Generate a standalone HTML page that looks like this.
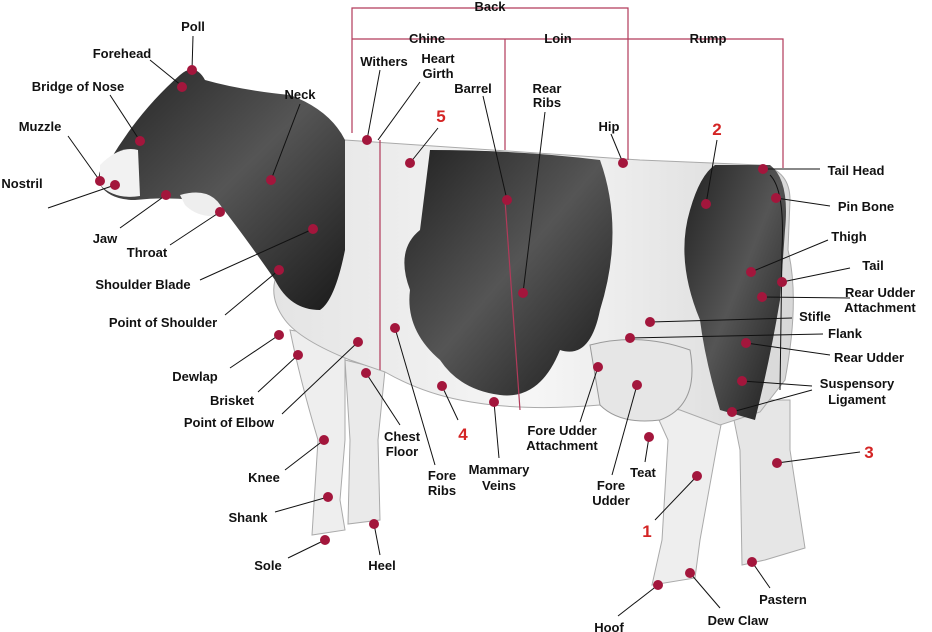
<!DOCTYPE html>
<html><head><meta charset="utf-8"><style>
html,body{margin:0;padding:0;background:#fff;}
svg{display:block;}
text{font-family:"Liberation Sans",sans-serif;font-weight:bold;font-size:13px;fill:#111;}
.r{fill:#d42424;font-size:17px;}
.d{fill:#a3163c;}
.l{stroke:#111;stroke-width:1;fill:none;}
.b{stroke:#b23a5a;stroke-width:1.2;fill:none;}
</style></head><body>
<svg width="932" height="632" viewBox="0 0 932 632">
<defs>
<linearGradient id="dk" x1="0" y1="0" x2="1" y2="1"><stop offset="0" stop-color="#222"/><stop offset=".5" stop-color="#555"/><stop offset="1" stop-color="#1a1a1a"/></linearGradient>
<linearGradient id="lg" x1="0" y1="0" x2="1" y2="0"><stop offset="0" stop-color="#e4e4e4"/><stop offset=".5" stop-color="#f6f6f6"/><stop offset="1" stop-color="#d8d8d8"/></linearGradient>
</defs>
<!-- legs -->
<path d="M290 330 L345 340 L345 440 L340 500 L345 530 L312 535 L318 440 Q300 380 290 330 Z" fill="#eee" stroke="#aaa"/>
<path d="M345 360 L385 370 L378 440 L380 520 L348 524 L350 440 Z" fill="#eaeaea" stroke="#aaa"/>
<path d="M730 400 L790 400 L790 450 L805 548 L765 560 L742 565 L740 450 Z" fill="#e6e6e6" stroke="#aaa"/>
<path d="M650 400 L725 405 L718 440 L700 540 L695 578 L652 585 L662 540 L668 440 Z" fill="#eee" stroke="#aaa"/>
<!-- body white -->
<path d="M345 140 Q500 150 640 160 L760 165 Q790 170 790 200 L788 250 Q800 300 785 380 L760 412 L720 425 L680 410 Q640 400 600 405 Q520 412 460 400 Q420 392 385 372 L350 360 Q300 340 285 320 Q270 300 275 280 Z" fill="url(#lg)" stroke="#aaa" stroke-width="1"/>
<!-- udder -->
<path d="M590 345 Q640 332 690 350 Q700 405 660 420 Q620 425 600 405 Z" fill="#e6e6e6" stroke="#999"/>
<!-- head & neck black -->
<path d="M180 75 Q195 62 205 80 Q240 90 290 95 Q330 110 345 140 L345 250 Q335 300 320 310 Q290 310 275 280 Q240 230 220 205 Q180 195 135 200 Q110 200 100 185 Q95 170 110 160 Q140 110 180 75 Z" fill="url(#dk)"/>
<path d="M100 165 Q120 145 138 150 L140 196 Q115 200 100 185 Z" fill="#f2f2f2"/>
<path d="M180 195 Q215 185 225 215 Q200 220 185 205 Z" fill="#eee"/>
<!-- barrel patch -->
<path d="M430 150 Q520 150 600 160 Q625 230 600 310 Q590 360 560 350 Q540 400 500 395 Q460 390 440 360 Q405 330 410 290 Q395 250 420 230 Z" fill="url(#dk)"/>
<!-- rear patch -->
<path d="M715 165 L770 165 Q790 180 785 230 L780 300 Q770 360 755 420 L720 410 Q705 360 700 320 Q675 260 690 210 Q700 175 715 165 Z" fill="url(#dk)"/>
<!-- tail -->
<path d="M770 175 Q785 190 782 250 L780 390" class="l" stroke="#666"/>

<!-- brackets -->
<path class="b" d="M352 133 V8 H628 V160"/>
<path class="b" d="M352 39 H783 V168"/>
<path class="b" d="M505 39 V150 M505 200 L520 410"/>
<path class="b" d="M380 140 V370"/>

<g class="l">
<line x1="193" y1="36" x2="192" y2="70"/>
<line x1="150" y1="60" x2="182" y2="86"/>
<line x1="110" y1="95" x2="140" y2="141"/>
<line x1="68" y1="136" x2="100" y2="181"/>
<line x1="48" y1="208" x2="115" y2="185"/>
<line x1="120" y1="228" x2="166" y2="195"/>
<line x1="170" y1="245" x2="220" y2="212"/>
<line x1="300" y1="104" x2="271" y2="180"/>
<line x1="200" y1="280" x2="313" y2="229"/>
<line x1="225" y1="315" x2="279" y2="270"/>
<line x1="230" y1="368" x2="279" y2="335"/>
<line x1="258" y1="392" x2="298" y2="355"/>
<line x1="282" y1="414" x2="358" y2="342"/>
<line x1="285" y1="470" x2="324" y2="440"/>
<line x1="275" y1="512" x2="328" y2="497"/>
<line x1="288" y1="558" x2="325" y2="540"/>
<line x1="380" y1="555" x2="374" y2="524"/>
<line x1="380" y1="70" x2="367" y2="140"/>
<line x1="420" y1="82" x2="378" y2="140"/>
<line x1="483" y1="96" x2="507" y2="200"/>
<line x1="545" y1="112" x2="523" y2="293"/>
<line x1="611" y1="134" x2="623" y2="163"/>
<line x1="438" y1="128" x2="410" y2="163"/>
<line x1="717" y1="140" x2="706" y2="204"/>
<line x1="820" y1="169" x2="763" y2="169"/>
<line x1="830" y1="206" x2="776" y2="198"/>
<line x1="828" y1="240" x2="751" y2="272"/>
<line x1="850" y1="268" x2="782" y2="282"/>
<line x1="850" y1="298" x2="762" y2="297"/>
<line x1="792" y1="318" x2="650" y2="322"/>
<line x1="823" y1="334" x2="630" y2="338"/>
<line x1="830" y1="355" x2="746" y2="343"/>
<line x1="812" y1="386" x2="742" y2="381"/>
<line x1="812" y1="390" x2="732" y2="412"/>
<line x1="860" y1="452" x2="777" y2="463"/>
<line x1="655" y1="520" x2="697" y2="476"/>
<line x1="645" y1="462" x2="649" y2="437"/>
<line x1="612" y1="475" x2="637" y2="385"/>
<line x1="580" y1="422" x2="598" y2="367"/>
<line x1="499" y1="458" x2="494" y2="402"/>
<line x1="458" y1="420" x2="442" y2="386"/>
<line x1="435" y1="465" x2="395" y2="328"/>
<line x1="400" y1="425" x2="366" y2="373"/>
<line x1="618" y1="616" x2="658" y2="585"/>
<line x1="720" y1="608" x2="690" y2="573"/>
<line x1="770" y1="588" x2="752" y2="562"/>
</g>

<g class="d">
<circle cx="192" cy="70" r="5"/><circle cx="182" cy="87" r="5"/><circle cx="140" cy="141" r="5"/>
<circle cx="100" cy="181" r="5"/><circle cx="115" cy="185" r="5"/><circle cx="166" cy="195" r="5"/>
<circle cx="220" cy="212" r="5"/><circle cx="271" cy="180" r="5"/><circle cx="313" cy="229" r="5"/>
<circle cx="279" cy="270" r="5"/><circle cx="279" cy="335" r="5"/><circle cx="298" cy="355" r="5"/>
<circle cx="358" cy="342" r="5"/><circle cx="324" cy="440" r="5"/><circle cx="328" cy="497" r="5"/>
<circle cx="325" cy="540" r="5"/><circle cx="374" cy="524" r="5"/><circle cx="367" cy="140" r="5"/>
<circle cx="507" cy="200" r="5"/><circle cx="523" cy="293" r="5"/><circle cx="623" cy="163" r="5"/>
<circle cx="410" cy="163" r="5"/><circle cx="706" cy="204" r="5"/><circle cx="763" cy="169" r="5"/>
<circle cx="776" cy="198" r="5"/><circle cx="751" cy="272" r="5"/><circle cx="782" cy="282" r="5"/>
<circle cx="762" cy="297" r="5"/><circle cx="650" cy="322" r="5"/><circle cx="630" cy="338" r="5"/>
<circle cx="746" cy="343" r="5"/><circle cx="742" cy="381" r="5"/><circle cx="732" cy="412" r="5"/>
<circle cx="777" cy="463" r="5"/><circle cx="697" cy="476" r="5"/><circle cx="649" cy="437" r="5"/>
<circle cx="637" cy="385" r="5"/><circle cx="598" cy="367" r="5"/><circle cx="494" cy="402" r="5"/>
<circle cx="442" cy="386" r="5"/><circle cx="395" cy="328" r="5"/><circle cx="366" cy="373" r="5"/>
<circle cx="658" cy="585" r="5"/><circle cx="690" cy="573" r="5"/><circle cx="752" cy="562" r="5"/>
</g>

<g text-anchor="middle">
<text x="490" y="11">Back</text>
<text x="427" y="43">Chine</text><text x="558" y="43">Loin</text><text x="708" y="43">Rump</text>
<text x="193" y="31">Poll</text>
<text x="122" y="58">Forehead</text>
<text x="78" y="91">Bridge of Nose</text>
<text x="40" y="131">Muzzle</text>
<text x="22" y="188">Nostril</text>
<text x="105" y="243">Jaw</text>
<text x="147" y="257">Throat</text>
<text x="300" y="99">Neck</text>
<text x="143" y="289">Shoulder Blade</text>
<text x="163" y="327">Point of Shoulder</text>
<text x="195" y="381">Dewlap</text>
<text x="232" y="405">Brisket</text>
<text x="229" y="427">Point of Elbow</text>
<text x="264" y="482">Knee</text>
<text x="248" y="522">Shank</text>
<text x="268" y="570">Sole</text>
<text x="382" y="570">Heel</text>
<text x="384" y="66">Withers</text>
<text x="438" y="63">Heart</text><text x="438" y="78">Girth</text>
<text x="473" y="93">Barrel</text>
<text x="547" y="93">Rear</text><text x="547" y="107">Ribs</text>
<text x="609" y="131">Hip</text>
<text x="856" y="175">Tail Head</text>
<text x="866" y="211">Pin Bone</text>
<text x="849" y="241">Thigh</text>
<text x="873" y="270">Tail</text>
<text x="880" y="297">Rear Udder</text><text x="880" y="312">Attachment</text>
<text x="815" y="321">Stifle</text>
<text x="845" y="338">Flank</text>
<text x="869" y="362">Rear Udder</text>
<text x="857" y="388">Suspensory</text><text x="857" y="404">Ligament</text>
<text x="643" y="477">Teat</text>
<text x="611" y="490">Fore</text><text x="611" y="505">Udder</text>
<text x="562" y="435">Fore Udder</text><text x="562" y="450">Attachment</text>
<text x="499" y="474">Mammary</text><text x="499" y="490">Veins</text>
<text x="442" y="480">Fore</text><text x="442" y="495">Ribs</text>
<text x="402" y="441">Chest</text><text x="402" y="456">Floor</text>
<text x="609" y="632">Hoof</text>
<text x="738" y="625">Dew Claw</text>
<text x="783" y="604">Pastern</text>
<text class="r" x="441" y="122">5</text>
<text class="r" x="717" y="135">2</text>
<text class="r" x="869" y="458">3</text>
<text class="r" x="647" y="537">1</text>
<text class="r" x="463" y="440">4</text>
</g>
</svg>
</body></html>
